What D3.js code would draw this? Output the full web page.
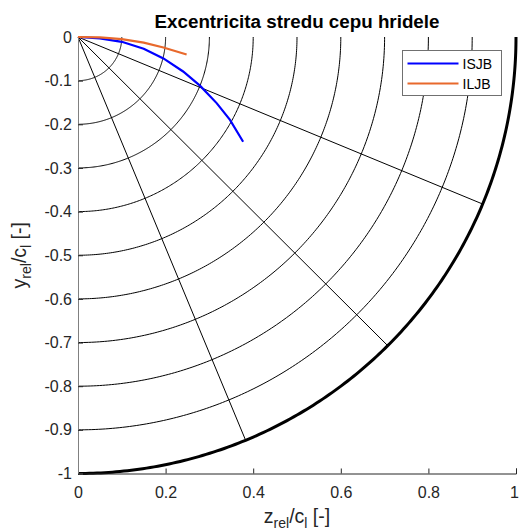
<!DOCTYPE html>
<html>
<head>
<meta charset="utf-8">
<script src="https://cdn.jsdelivr.net/npm/d3@7"></script>
<style>
  html, body { margin: 0; padding: 0; background: #fff; }
  svg { display: block; font-family: "Liberation Sans", Arial, Helvetica, sans-serif; }
</style>
</head>
<body>
<svg id="chart" width="519" height="532"></svg>
<script>
// Shaft journal centre eccentricity (relative coordinates)
const isjbZ = [0, 0.05, 0.10, 0.15, 0.195, 0.24, 0.279, 0.317, 0.347, 0.377];
const isjbY = [0, -0.003, -0.011, -0.027, -0.049, -0.079, -0.112, -0.152, -0.190, -0.240];
const iljbZ = [0, 0.05, 0.10, 0.15, 0.195, 0.248];
const iljbY = [0, -0.001, -0.005, -0.013, -0.024, -0.040];

// Polar grid: ring radii, clearance circle and spoke angles (deg)
const ringRadii = [0.1, 0.2, 0.3, 0.4, 0.5, 0.6, 0.7, 0.8, 0.9];
const clearanceRadius = 1;
const spokeAngles = [22.5, 45, 67.5];

const xTicks = [0, 0.2, 0.4, 0.6, 0.8, 1];
const yTicks = [0, -0.1, -0.2, -0.3, -0.4, -0.5, -0.6, -0.7, -0.8, -0.9, -1];

const seriesNames = ["ISJB", "ILJB"];
const seriesColors = ["#0000FF", "#E8692C"];

const svg = d3.select("#chart");
const x = d3.scaleLinear().domain([0, 1]).range([78, 516]);
const y = d3.scaleLinear().domain([-1, 0]).range([473.5, 37]);

const line = d3.line().x(d => x(d[0])).y(d => y(d[1]));

// quarter circle in the fourth quadrant
function quarter(r) {
  const pts = d3.range(0, 90.01, 0.5).map(a => {
    const t = a * Math.PI / 180;
    return [r * Math.cos(t), -r * Math.sin(t)];
  });
  return line(pts);
}

const grid = svg.append("g");
grid.selectAll("path.ring").data(ringRadii).join("path")
  .attr("class", "ring")
  .attr("d", quarter)
  .attr("fill", "none").attr("stroke", "#000").attr("stroke-width", 1);

grid.selectAll("line.spoke").data(spokeAngles).join("line")
  .attr("class", "spoke")
  .attr("x1", x(0)).attr("y1", y(0))
  .attr("x2", a => x(clearanceRadius * Math.cos(a * Math.PI / 180)))
  .attr("y2", a => y(-clearanceRadius * Math.sin(a * Math.PI / 180)))
  .attr("stroke", "#000").attr("stroke-width", 1);

grid.append("path")
  .attr("d", quarter(clearanceRadius))
  .attr("fill", "none").attr("stroke", "#000").attr("stroke-width", 3);

// axes (plain hyphen for negative numbers)
const fmt = d => String(+d.toFixed(1));
const xAxis = d3.axisBottom(x).tickValues(xTicks).tickSize(-5).tickPadding(13).tickFormat(fmt);
const yAxis = d3.axisLeft(y).tickValues(yTicks).tickSize(-5).tickPadding(6).tickFormat(fmt);

const gx = svg.append("g").attr("transform", `translate(0,${y(-1)})`).call(xAxis);
const gy = svg.append("g").attr("transform", `translate(${x(0)},0)`).call(yAxis);
[gx, gy].forEach(g => {
  g.select(".domain").attr("stroke", "#262626");
  g.selectAll(".tick line").attr("stroke", "#262626");
  g.selectAll(".tick text").attr("fill", "#262626")
    .style("font-family", "'Liberation Sans', Arial, sans-serif")
    .style("font-size", "16px");
});
gy.select(".domain").attr("stroke", "#808080");
// keep the last x label inside the frame
gx.selectAll(".tick text").filter(d => d === 1).attr("dx", -2);

// data series
const series = [
  d3.zip(isjbZ, isjbY),
  d3.zip(iljbZ, iljbY)
];
svg.append("g").selectAll("path").data(series).join("path")
  .attr("d", line)
  .attr("fill", "none")
  .attr("stroke", (d, i) => seriesColors[i])
  .attr("stroke-width", 2.2);

// title
svg.append("text")
  .attr("x", (x(0) + x(1)) / 2).attr("y", 28)
  .attr("text-anchor", "middle")
  .attr("font-weight", "bold").attr("font-size", 18.8)
  .attr("fill", "#000")
  .text("Excentricita stredu cepu hridele");

// axis labels with subscripts
function subLabel(sel, base, sub1, mid, sub2, tail) {
  sel.append("tspan").text(base);
  sel.append("tspan").attr("font-size", 14).attr("dy", 5).text(sub1);
  sel.append("tspan").attr("dy", -5).text(mid);
  sel.append("tspan").attr("font-size", 14).attr("dy", 5).text(sub2);
  sel.append("tspan").attr("dy", -5).text(tail);
}

const xl = svg.append("text")
  .attr("x", (x(0) + x(1)) / 2).attr("y", 523)
  .attr("text-anchor", "middle").attr("font-size", 19.5).attr("fill", "#262626");
subLabel(xl, "z", "rel", "/c", "l", " [-]");

const yl = svg.append("text")
  .attr("transform", `translate(26,${(y(0) + y(-1)) / 2}) rotate(-90)`)
  .attr("text-anchor", "middle").attr("font-size", 19.5).attr("fill", "#262626");
subLabel(yl, "y", "rel", "/c", "l", " [-]");

// legend
const lg = svg.append("g").attr("transform", "translate(402.5,50.5)");
lg.append("rect").attr("width", 99).attr("height", 45)
  .attr("fill", "#fff").attr("stroke", "#707070").attr("stroke-width", 1);
const items = lg.selectAll("g.item").data(seriesNames).join("g")
  .attr("class", "item")
  .attr("transform", (d, i) => `translate(0,${13 + i * 20})`);
items.append("line").attr("x1", 5).attr("x2", 56)
  .attr("stroke", (d, i) => seriesColors[i]).attr("stroke-width", 2.2);
items.append("text").attr("x", 60).attr("y", 5)
  .attr("font-size", 14).attr("fill", "#000").text(d => d);
</script>
</body>
</html>
